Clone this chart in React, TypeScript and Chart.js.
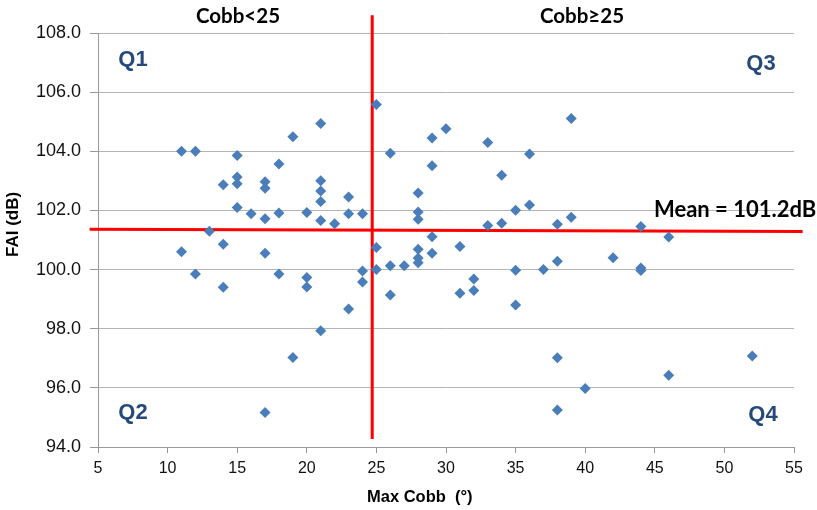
import React, { useEffect, useRef } from "react";
import { Chart, registerables } from "chart.js";

Chart.register(...registerables);

// Max Cobb angle (degrees) for each subject
const cobb: number[] = [
  11, 12, 11, 12, 13, 14, 14, 14, 15, 15, 15, 15, 16, 17, 17, 17, 17, 17, 18, 18, 18, 19, 19, 20, 20, 20,
  21, 21, 21, 21, 21, 21, 22, 23, 23, 23, 24, 24, 24,
  25, 25, 25, 26, 26, 26, 27, 28, 28, 28, 28, 28, 28, 29, 29, 29, 29, 30, 31, 31, 32, 32, 33, 33, 34, 34,
  35, 35, 35, 36, 36, 37, 38, 38, 38, 38, 39, 39, 40, 42, 44, 44, 44, 46, 46, 52,
];
// FAI (dB) for each subject
const fai: number[] = [
  104.0, 104.0, 100.6, 99.85, 101.3, 102.87, 100.86, 99.4, 103.86, 103.13, 102.9, 102.1, 101.89, 102.97, 102.75,
  101.72, 100.55, 95.17, 103.57, 101.91, 99.85, 104.49, 97.03, 101.93, 99.73, 99.41,
  104.94, 103.0, 102.66, 102.3, 101.66, 97.93, 101.55, 102.45, 101.89, 98.67, 101.89, 99.95, 99.58,
  105.58, 100.75, 100.0, 103.93, 100.13, 99.14, 100.13, 102.59, 101.95, 101.7, 100.69, 100.39, 100.23,
  104.45, 103.51, 101.11, 100.55, 104.76, 100.78, 99.2, 99.68, 99.29, 104.3, 101.49, 103.19, 101.57,
  102.01, 99.98, 98.8, 103.91, 102.18, 100.0, 101.53, 100.28, 97.02, 95.25, 105.11, 101.77, 95.98, 100.4,
  101.46, 100.05, 99.97, 101.1, 96.43, 97.08,
];

// Reference lines (as drawn in the source figure)
const meanLineX: number[] = [4.4, 55.62];
const meanLineY: number[] = [101.36, 101.29];
const cobbSplitX: number[] = [24.7, 24.7];
const cobbSplitY: number[] = [108.6, 94.27];

const xTicks = { min: 5, max: 55, step: 5 };
const yTicks = { min: 94, max: 108, step: 2 };

const xTitle = "Max Cobb  (°)";
const yTitle = "FAI (dB)";
const groupLabels = ["Cobb<25", "Cobb≥25"];
const quadrantLabels = ["Q1", "Q2", "Q3", "Q4"];
const meanLabel = "Mean = 101.2dB";

const labelPlugin = {
  id: "labels",
  afterDraw(chart: any) {
    const ctx = chart.ctx as CanvasRenderingContext2D;
    ctx.save();
    ctx.fillStyle = "#000";
    ctx.textBaseline = "alphabetic";
    // group labels
    ctx.font = "bold 20.5px Lato";
    ctx.textAlign = "center";
    ctx.fillText(groupLabels[0], 238, 23);
    ctx.fillText(groupLabels[1], 582, 23);
    // mean label
    ctx.textAlign = "left";
    ctx.font = "bold 22px Lato";
    ctx.fillText(meanLabel, 654, 217);
    // quadrant labels
    ctx.fillStyle = "#24497a";
    ctx.font = "bold 22px 'Liberation Sans'";
    ctx.textAlign = "center";
    ctx.fillText(quadrantLabels[0], 133, 66);
    ctx.fillText(quadrantLabels[1], 133, 419);
    ctx.fillText(quadrantLabels[2], 761, 70);
    ctx.fillText(quadrantLabels[3], 763, 421);
    // axis titles
    ctx.fillStyle = "#000";
    ctx.font = "bold 16.5px 'Liberation Sans'";
    ctx.textAlign = "left";
    ctx.fillText(xTitle, 367, 502);
    ctx.translate(18, 257);
    ctx.rotate(-Math.PI / 2);
    ctx.font = "bold 17px 'Liberation Sans'";
    ctx.fillText(yTitle, 0, 0);
    ctx.restore();
  },
};

export default function App() {
  const ref = useRef<HTMLCanvasElement>(null);
  useEffect(() => {
    if (!ref.current) return;
    const points = cobb.map((c, i) => ({ x: c, y: fai[i] }));
    const mean = meanLineX.map((x, i) => ({ x, y: meanLineY[i] }));
    const split = cobbSplitX.map((x, i) => ({ x, y: cobbSplitY[i] }));
    const chart = new Chart(ref.current, {
      type: "scatter",
      data: {
        datasets: [
          {
            data: points,
            pointStyle: "rectRot",
            pointRadius: 5.5,
            backgroundColor: "#4a7ebb",
            borderColor: "#4a7ebb",
            borderWidth: 0,
            order: 0,
          },
          {
            data: mean,
            showLine: true,
            borderColor: "#ff0000",
            borderWidth: 3,
            pointRadius: 0,
            clip: false as any,
            order: 1,
          },
          {
            data: split,
            showLine: true,
            borderColor: "#ff0000",
            borderWidth: 3,
            pointRadius: 0,
            clip: false as any,
            order: 1,
          },
        ],
      },
      options: {
        responsive: false,
        animation: false,
        layout: { padding: { left: 0, right: 23, top: 33, bottom: 0 } },
        plugins: { legend: { display: false }, tooltip: { enabled: false } },
        scales: {
          x: {
            type: "linear",
            min: xTicks.min,
            max: xTicks.max,
            afterFit: (s: any) => {
              s.height = 63;
            },
            ticks: {
              stepSize: xTicks.step,
              color: "#111",
              font: { family: "'Liberation Sans'", size: 16 },
              padding: 6,
            },
            grid: { drawOnChartArea: false, drawTicks: true, tickLength: 6, color: "#999" },
            border: { display: true, color: "#999" },
          },
          y: {
            type: "linear",
            min: yTicks.min,
            max: yTicks.max,
            afterFit: (s: any) => {
              s.width = 98;
            },
            ticks: {
              stepSize: yTicks.step,
              color: "#111",
              font: { family: "'Liberation Sans'", size: 18 },
              padding: 9,
              callback: (v: any) => Number(v).toFixed(1),
            },
            grid: { color: "#b4b4b4", tickLength: 8, tickColor: "#999" },
            border: { display: true, color: "#999" },
          },
        },
      },
      plugins: [labelPlugin],
    });
    return () => chart.destroy();
  }, []);
  return (
    <div style={{ position: "absolute", left: 0, top: 0, width: 817, height: 510, background: "#fff" }}>
      <canvas ref={ref} width={817} height={510} />
    </div>
  );
}
